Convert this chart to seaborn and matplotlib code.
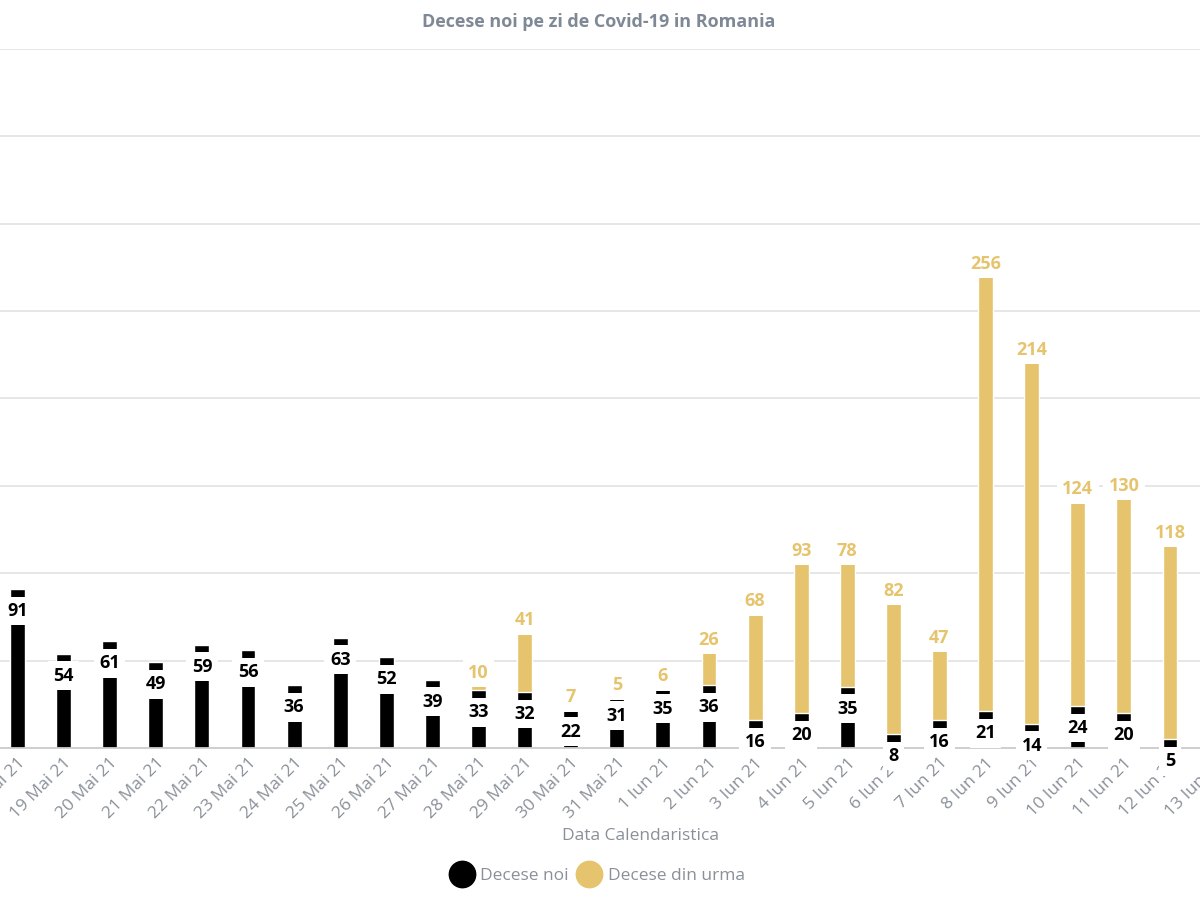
import matplotlib

matplotlib.use("Agg")
import matplotlib.pyplot as plt
import pandas as pd
import seaborn as sns
from matplotlib.lines import Line2D

# values
dates = [
    "18 Mai 21", "19 Mai 21", "20 Mai 21", "21 Mai 21", "22 Mai 21", "23 Mai 21",
    "24 Mai 21", "25 Mai 21", "26 Mai 21", "27 Mai 21", "28 Mai 21", "29 Mai 21",
    "30 Mai 21", "31 Mai 21", "1 Iun 21", "2 Iun 21", "3 Iun 21", "4 Iun 21",
    "5 Iun 21", "6 Iun 21", "7 Iun 21", "8 Iun 21", "9 Iun 21", "10 Iun 21",
    "11 Iun 21", "12 Iun 21",
]
# the next day's tick label is visible, its bar is outside the crop
tick_labels = dates + ["13 Iun 21"]
decese_noi = [91, 54, 61, 49, 59, 56, 36, 63, 52, 39, 33, 32, 22, 31, 35, 36,
              16, 20, 35, 8, 16, 21, 14, 24, 20, 5]
decese_din_urma = [0, 0, 0, 0, 0, 0, 0, 0, 0, 0, 10, 41, 7, 5, 6, 26,
                   68, 93, 78, 82, 47, 256, 214, 124, 130, 118]

BLACK = "#000000"
YELLOW = "#E5C46D"
GRAY_TXT = "#8a9099"
TITLE_C = "#7f8996"

df = pd.DataFrame({"data": dates, "noi": decese_noi, "urma": decese_din_urma})
df["total"] = df["noi"] + df["urma"]

sns.set_theme(style="white")
plt.rcParams["font.family"] = ["Open Sans", "DejaVu Sans"]

fig = plt.figure(figsize=(12, 9), dpi=100)
# the reference is a crop of a wider chart: axes run past both figure edges
ax = fig.add_axes([-0.00463, 0.16889, 1.03725, 0.77667])

# stacked bars: total in yellow, new deaths drawn over it in black
sns.barplot(data=df, x="data", y="total", color=YELLOW, width=0.325,
            saturation=1, ax=ax, zorder=2)
sns.barplot(data=df, x="data", y="noi", color=BLACK, width=0.325,
            saturation=1, ax=ax, zorder=2)

ax.set_xlim(-0.5, len(tick_labels) - 0.5)
ax.set_ylim(0, 400)
ax.set_yticks(range(0, 401, 50))
ax.set_yticklabels([])
ax.yaxis.grid(True, color="#e4e4e4", lw=1.3)
ax.set_axisbelow(True)
for side in ("left", "right", "top"):
    ax.spines[side].set_visible(False)
ax.spines["bottom"].set_color("#cccccc")
ax.spines["bottom"].set_linewidth(1.3)
ax.spines["bottom"].set_zorder(2.5)

ax.set_xticks(range(len(tick_labels)))
ax.set_xticklabels(tick_labels, rotation=45, ha="right", va="top",
                   rotation_mode="anchor", color=GRAY_TXT, fontsize=12.5)
ax.tick_params(axis="x", length=0, pad=5)
ax.tick_params(axis="y", length=0)
ax.set_xlabel("")
ax.set_ylabel("")

# data labels with white boxes (they cover the bar tops like in the original)
box = dict(boxstyle="square,pad=0.3", fc="white", ec="none")
for i, row in df.iterrows():
    ax.annotate(str(row["noi"]), xy=(i, row["noi"]), xytext=(0, -22),
                textcoords="offset pixels", ha="center", va="center",
                fontsize=13, fontweight="bold", color=BLACK, bbox=box,
                zorder=4, annotation_clip=False)
for i, row in df.iterrows():
    if row["urma"] > 0:
        ax.annotate(str(row["urma"]), xy=(i, row["total"]), xytext=(0, 0),
                    textcoords="offset pixels", ha="center", va="center",
                    fontsize=13, fontweight="bold", color=YELLOW, bbox=box,
                    zorder=5, annotation_clip=False)

fig.text(599 / 1200, 1 - 22 / 900, "Decese noi pe zi de Covid-19 in Romania",
         ha="center", va="center", fontsize=13, fontweight="bold", color=TITLE_C)
fig.text(640 / 1200, 1 - 836 / 900, "Data Calendaristica",
         ha="center", va="center", fontsize=12.5, color=GRAY_TXT)

handles = [
    Line2D([], [], ls="none", marker="o", markersize=19, color=BLACK),
    Line2D([], [], ls="none", marker="o", markersize=19, color=YELLOW),
]
leg = fig.legend(handles, ["Decese noi", "Decese din urma"], loc="center",
                 bbox_to_anchor=(597 / 1200, 1 - 876 / 900), ncol=2,
                 frameon=False, handletextpad=0.35, columnspacing=0.5,
                 handlelength=1.4, fontsize=12.5)
for t in leg.get_texts():
    t.set_color(GRAY_TXT)

fig.savefig("out.png", dpi=100)
